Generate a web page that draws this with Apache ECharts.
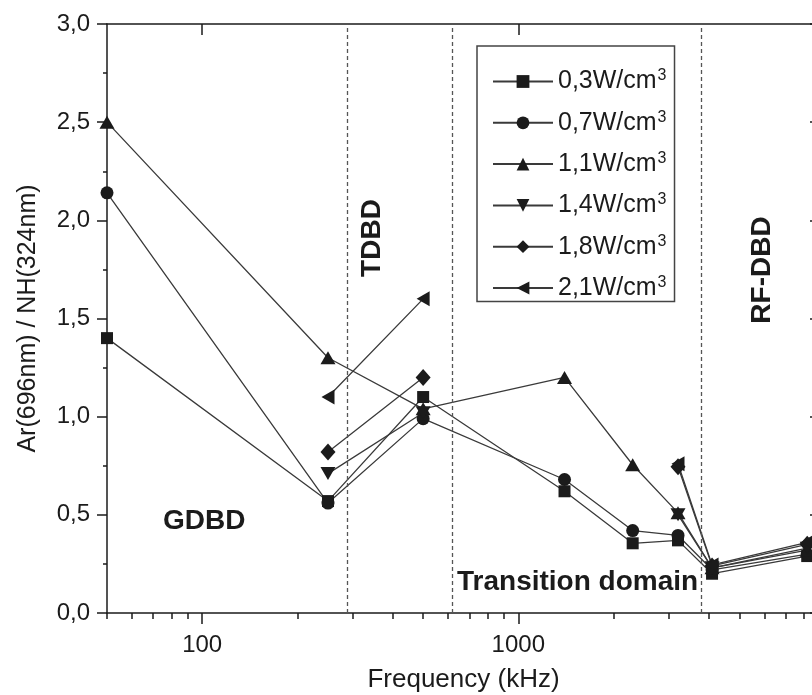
<!DOCTYPE html>
<html>
<head>
<meta charset="utf-8">
<script src="https://cdn.jsdelivr.net/npm/echarts@6/dist/echarts.min.js"></script>
<style>
  html, body { margin: 0; padding: 0; background: #fff; }
  #chart { width: 812px; height: 695px; }
</style>
</head>
<body>
<div id="chart"></div>
<script>
// Excitation frequency (kHz), shared by every power-density series
const freqs = [50, 250, 500, 1400, 2300, 3200, 4100, 8200];

// Ar(696nm)/NH(324nm) intensity ratio per power density (null = not measured)
const p03 = [1.40, 0.57, 1.10, 0.62, 0.355, 0.37, 0.20, 0.29];
const p07 = [2.14, 0.56, 0.99, 0.68, 0.42, 0.395, 0.22, 0.30];
const p11 = [2.50, 1.30, 1.04, 1.20, 0.755, 0.51, 0.23, 0.32];
const p14 = [null, 0.71, 1.02, null, null, 0.50, 0.23, 0.33];
const p18 = [null, 0.82, 1.20, null, null, 0.745, 0.24, 0.35];
const p21 = [null, 1.10, 1.60, null, null, 0.76, 0.245, 0.36];

const seriesNames = ['0,3W/cm3', '0,7W/cm3', '1,1W/cm3', '1,4W/cm3', '1,8W/cm3', '2,1W/cm3'];

// Discharge-regime boundaries (kHz)
const boundaries = [287, 617, 3770];

// Frequency axis range and tick values (kHz)
const xMin = 50, xMax = 9000;
const xMajorTicks = [100, 1000];
const xMinorTicks = [50, 60, 70, 80, 90, 200, 300, 400, 500, 600, 700, 800, 900,
                     2000, 3000, 4000, 5000, 6000, 7000, 8000, 9000];

const FONT = '"Liberation Sans", Arial, Helvetica, sans-serif';
const INK = '#1b1b1b';
const lg = Math.log10;

const symbols = [
  { symbol: 'rect', size: 12 },
  { symbol: 'circle', size: 13 },
  { symbol: 'path://M5,0 L10,9 L0,9 Z', size: [15, 13] },
  { symbol: 'path://M0,0 L10,0 L5,9 Z', size: [15, 13] },
  { symbol: 'diamond', size: [15, 17] },
  { symbol: 'path://M0,5 L9,0 L9,10 Z', size: [13, 15] }
];
const values = [p03, p07, p11, p14, p18, p21];

const series = values.map((vals, i) => ({
  name: seriesNames[i],
  type: 'line',
  xAxisIndex: 0,
  yAxisIndex: 0,
  data: freqs.map((f, j) => [lg(f), vals[j] == null ? '-' : vals[j]]),
  connectNulls: false,
  symbol: symbols[i].symbol,
  symbolSize: symbols[i].size,
  showAllSymbol: true,
  clip: true,
  itemStyle: { color: INK },
  lineStyle: { color: '#3a3a3a', width: 1.3 },
  emphasis: { disabled: true },
  z: 3
}));

// Dashed regime separators
series.push({
  type: 'line',
  xAxisIndex: 0,
  yAxisIndex: 0,
  data: [],
  silent: true,
  markLine: {
    silent: true,
    symbol: ['none', 'none'],
    label: { show: false },
    lineStyle: { color: '#555', width: 1.3, type: [4, 3] },
    data: boundaries.map(b => ({ xAxis: lg(b) }))
  },
  z: 1
});

const axisLineStyle = { show: true, onZero: false, lineStyle: { color: INK, width: 1.5 } };

const option = {
  backgroundColor: '#fff',
  animation: false,
  textStyle: { fontFamily: FONT },
  grid: { left: 107, top: 24, bottom: 82, width: 713, containLabel: false, outerBoundsMode: 'none' },
  legend: {
    orient: 'vertical',
    left: 477,
    top: 46,
    padding: [22, 8, 1, 15],
    borderColor: '#444',
    borderWidth: 1.5,
    itemWidth: 60,
    itemHeight: 16,
    itemGap: 15.3,
    data: seriesNames,
    formatter: name => '{t|' + name.slice(0, -1) + '}{s|' + name.slice(-1) + '}',
    textStyle: {
      fontFamily: FONT,
      color: INK,
      rich: {
        t: { fontSize: 25, lineHeight: 27, fontFamily: FONT, color: INK },
        s: { fontSize: 16, lineHeight: 16, verticalAlign: 'top', fontFamily: FONT, color: INK, padding: [0, 0, 4, 1] }
      }
    }
  },
  xAxis: [
    {
      type: 'value', position: 'bottom', min: lg(xMin), max: lg(xMax),
      name: 'Frequency (kHz)', nameLocation: 'middle', nameGap: 54,
      nameTextStyle: { fontSize: 26, color: INK, fontFamily: FONT },
      axisLine: axisLineStyle,
      axisTick: { show: true, inside: false, length: 11, lineStyle: { color: INK, width: 1.5 },
                  customValues: xMajorTicks.map(lg) },
      axisLabel: { show: true, fontSize: 24, color: INK, margin: 20, fontFamily: FONT,
                   customValues: xMajorTicks.map(lg),
                   formatter: v => String(Math.round(Math.pow(10, v))) },
      splitLine: { show: false }
    },
    {
      type: 'value', position: 'bottom', min: lg(xMin), max: lg(xMax),
      axisLine: { show: false },
      axisTick: { show: true, inside: false, length: 5, lineStyle: { color: INK, width: 1.5 },
                  customValues: xMinorTicks.map(lg) },
      axisLabel: { show: false },
      splitLine: { show: false }
    },
    {
      type: 'value', position: 'top', min: lg(xMin), max: lg(xMax),
      axisLine: axisLineStyle,
      axisTick: { show: true, inside: true, length: 11, lineStyle: { color: INK, width: 1.5 },
                  customValues: xMajorTicks.map(lg) },
      axisLabel: { show: false },
      splitLine: { show: false }
    },
    {
      type: 'value', position: 'top', min: lg(xMin), max: lg(xMax),
      axisLine: { show: false },
      axisTick: { show: true, inside: true, length: 6, lineStyle: { color: INK, width: 1.5 },
                  customValues: xMinorTicks.map(lg) },
      axisLabel: { show: false },
      splitLine: { show: false }
    }
  ],
  yAxis: [
    {
      type: 'value', position: 'left', min: 0, max: 3, interval: 0.5,
      name: 'Ar(696nm) / NH(324nm)', nameLocation: 'middle', nameGap: 66,
      nameTextStyle: { fontSize: 25, color: INK, fontFamily: FONT },
      axisLine: axisLineStyle,
      axisTick: { show: true, inside: false, length: 10, lineStyle: { color: INK, width: 1.5 } },
      minorTick: { show: true, splitNumber: 2, length: 4, lineStyle: { color: INK, width: 1.5 } },
      axisLabel: { fontSize: 24, color: INK, margin: 17, fontFamily: FONT,
                   formatter: v => v.toFixed(1).replace('.', ',') },
      splitLine: { show: false },
      minorSplitLine: { show: false }
    },
    {
      type: 'value', position: 'right', min: 0, max: 3, interval: 0.5,
      axisLine: axisLineStyle,
      axisTick: { show: true, inside: true, length: 10, lineStyle: { color: INK, width: 1.5 } },
      minorTick: { show: true, splitNumber: 2, length: 5, lineStyle: { color: INK, width: 1.5 } },
      axisLabel: { show: false },
      splitLine: { show: false },
      minorSplitLine: { show: false }
    }
  ],
  graphic: [
    { type: 'text', left: 163, top: 507, silent: true,
      style: { text: 'GDBD', font: 'bold 28px ' + FONT, fill: INK } },
    { type: 'text', left: 457, top: 568, silent: true,
      style: { text: 'Transition domain', font: 'bold 28px ' + FONT, fill: INK } },
    { type: 'text', x: 372, y: 238, rotation: Math.PI / 2, silent: true,
      style: { text: 'TDBD', font: 'bold 28px ' + FONT, fill: INK, align: 'center', verticalAlign: 'middle' } },
    { type: 'text', x: 762, y: 270, rotation: Math.PI / 2, silent: true,
      style: { text: 'RF-DBD', font: 'bold 28px ' + FONT, fill: INK, align: 'center', verticalAlign: 'middle' } }
  ],
  series: series
};

const chart = echarts.init(document.getElementById('chart'), null, { renderer: 'canvas' });
chart.setOption(option);
</script>
</body>
</html>
